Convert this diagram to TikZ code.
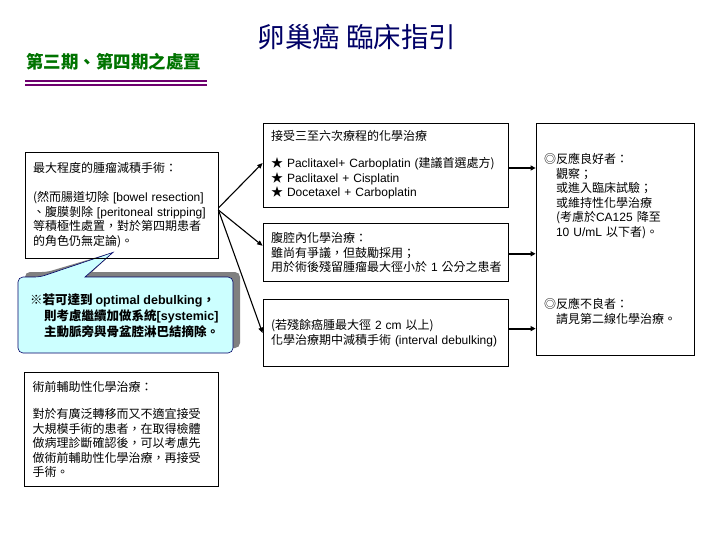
\documentclass[tikz,border=0pt]{standalone}
\usepackage{fontspec}
\setmainfont{Noto Sans CJK TC}
\newfontfamily\latinfont{Liberation Sans}
\newcommand\eng[1]{{\latinfont #1}}
\usetikzlibrary{arrows.meta,positioning,backgrounds}
\definecolor{navy}{RGB}{0,0,102}
\definecolor{leafgreen}{RGB}{0,115,0}
\definecolor{plum}{RGB}{110,0,110}
\definecolor{notecyan}{RGB}{204,255,255}
\definecolor{noteshade}{RGB}{128,128,128}

\begin{document}
\begin{tikzpicture}[x=1pt,y=-1pt,
   every node/.style={font=\fontsize{12}{14.5}\selectfont},
   box/.style={draw,line width=0.8pt,align=left,inner xsep=8pt,inner ysep=0pt,text width=#1},
   link/.style={line width=1.1pt,-{Triangle[length=5.5pt,width=4.5pt]}},
   feed/.style={line width=1.8pt,-{Triangle[length=5pt,width=5pt]}}]
   \useasboundingbox (0,0) rectangle (720,540);

   % title and heading
   \node (title) [text=navy,font=\fontsize{27.5}{30}\selectfont] at (357,37) {卵巢癌 臨床指引} ;
   \node (stage) [anchor=west,text=leafgreen,inner xsep=0pt,font=\fontsize{17.5}{20}\selectfont\bfseries] at (26,62) {第三期、第四期之處置} ;
   \draw [plum,line width=1.5pt] (25,81) -- (207,81) ;
   \draw [plum,line width=1.5pt] (25,85) -- (207,85) ;

   % left column
   \node (surgery) [box=177pt,minimum height=106pt] at (121.5,205) {最大程度的腫瘤減積手術：\\[14.5pt]
      (然而腸道切除~\eng{[bowel~resection]}\\
      、腹膜剝除~\eng{[peritoneal~stripping]}\\
      等積極性處置，對於第四期患者\\
      的角色仍無定論)。} ;
   \node (neoadj) [box=178pt,minimum height=114pt,below=114pt of surgery] {術前輔助性化學治療：\\[12.5pt]
      對於有廣泛轉移而又不適宜接受\\
      大規模手術的患者，在取得檢體\\
      做病理診斷確認後，可以考慮先\\
      做術前輔助性化學治療，再接受\\
      手術。} ;

   % callout
   \node (note) [anchor=west,align=left,inner xsep=0pt,font=\fontsize{12.5}{16}\selectfont\bfseries] at (30,316) {※若可達到~\eng{optimal~debulking}，\\
      \hspace*{14pt}則考慮繼續加做系統\eng{[systemic]}\\
      \hspace*{14pt}主動脈旁與骨盆腔淋巴結摘除。} ;
   \coordinate (tip) at ([xshift=-8.5pt,yshift=6pt]surgery.south) ;
   \begin{scope}[on background layer]
      \fill [noteshade,shift={(7,-5)},rounded corners=5pt] (18,315) |- (40,277) [sharp corners] -- (tip) -- (85,277) [rounded corners=5pt] -| (233,315) |- (18,353) -- cycle ;
      \filldraw [fill=notecyan,draw=navy,line width=0.6pt,rounded corners=5pt] (18,315) |- (40,277) [sharp corners] -- (tip) -- (85,277) [rounded corners=5pt] -| (233,315) |- (18,353) -- cycle ;
   \end{scope}

   % middle column
   \node (chemo) [box=229pt,minimum height=84pt] at (385.5,165) {接受三至六次療程的化學治療\\[12.5pt]
      ★~\eng{Paclitaxel+~Carboplatin~(}建議首選處方)\\
      ★~\eng{Paclitaxel~+~Cisplatin}\\
      ★~\eng{Docetaxel~+~Carboplatin}} ;
   \node (ipchemo) [box=229pt,minimum height=58pt,below=16pt of chemo] {腹腔內化學治療：\\
      雖尚有爭議，但鼓勵採用；\\
      用於術後殘留腫瘤最大徑小於~\eng{1}~公分之患者} ;
   \node (interval) [box=229pt,minimum height=67pt,below=17pt of ipchemo] {(若殘餘癌腫最大徑~\eng{2~cm}~以上)\\
      化學治療期中減積手術~\eng{(interval~debulking)}} ;

   % right column
   \node (response) [box=142pt,minimum height=232pt] at (615,239) {◎反應良好者：\\
      \hspace*{12pt}觀察；\\
      \hspace*{12pt}或進入臨床試驗；\\
      \hspace*{12pt}或維持性化學治療\\
      \hspace*{12pt}(考慮於\eng{CA125}~降至\\
      \hspace*{12pt}\eng{10~U/mL}~以下者)。\\[58pt]
      ◎反應不良者：\\
      \hspace*{12pt}請見第二線化學治療。} ;

   \draw [link] ([yshift=-3pt]surgery.east) -- ([yshift=2pt]chemo.west) ;
   \draw [link] ([yshift=-5pt]surgery.east) -- ([yshift=7pt]ipchemo.west) ;
   \draw [link] ([yshift=-5pt]surgery.east) -- (interval.west) ;

   \draw [feed] ([yshift=-3pt]chemo.east) -- ([yshift=-3pt]chemo.east -| response.west) ;
   \draw [feed] ([yshift=-1pt]ipchemo.east) -- ([yshift=-1pt]ipchemo.east -| response.west) ;
   \draw [feed] ([yshift=4.5pt]interval.east) -- ([yshift=4.5pt]interval.east -| response.west) ;

\end{tikzpicture}
\end{document}
